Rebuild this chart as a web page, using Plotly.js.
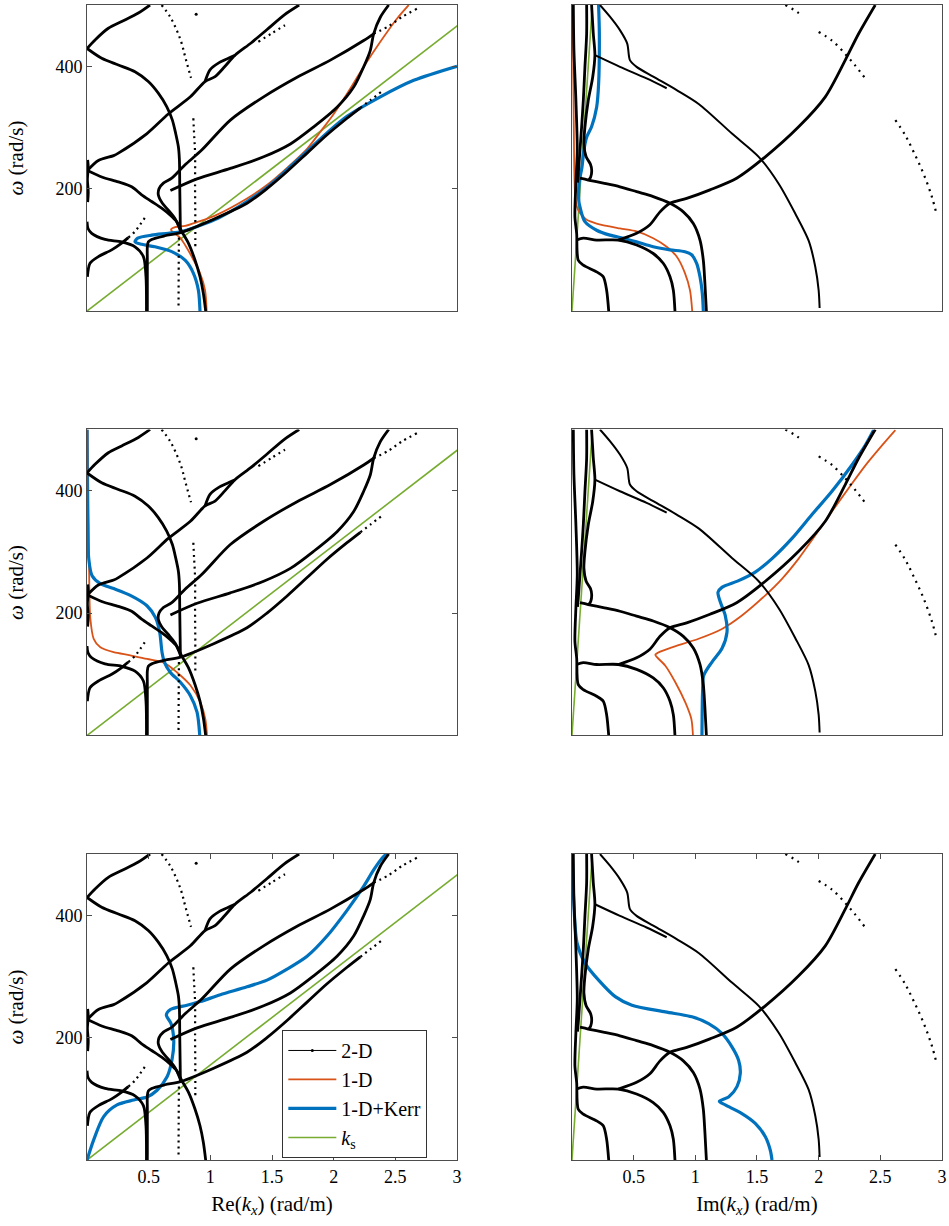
<!DOCTYPE html>
<html>
<head>
<meta charset="utf-8">
<script src="https://cdn.plot.ly/plotly-3.0.1.min.js"></script>
<style>html,body{margin:0;padding:0;background:#fff;}#chart{width:949px;height:1226px;}</style>
</head>
<body>
<div id="chart"></div>
<script>
// ===== 2-D solution branches, Re(kx) panels : [Re(kx) rad/m, omega rad/s]
const re2D_upperLeft = [[0,429],[0.065,443],[0.173,462],[0.281,473],[0.416,487],[0.511,500]];
const re2D_bendDown = [[0,429],[0.119,413],[0.254,402],[0.389,391],[0.497,375],[0.578,356],[0.646,334],[0.692,312],[0.719,290],[0.741,268],[0.749,247],[0.752,200],[0.755,160],[0.757,127]];
const re2D_longRise = [[0,229],[0.092,246],[0.216,254],[0.254,258],[0.486,290],[0.659,322],[0.838,350],[0.957,375],[1.038,383],[1.119,400],[1.2,418],[1.33,438],[1.46,460],[1.6,484],[1.72,500]];
const re2D_eye = [[0.957,375],[0.997,394],[1.065,405],[1.146,413],[1.2,418]];
const re2D_cuspDown = [[0,230],[0.119,219],[0.254,211],[0.362,203],[0.443,190],[0.524,179],[0.605,168],[0.673,157],[0.727,146],[0.768,130],[0.822,111],[0.876,83],[0.916,56],[0.943,29],[0.962,0]];
const re2D_edge = [[0.005,247],[0.01,235],[0.003,215],[0.01,195],[0.005,178]];
const re2D_hookRise = [[0.76,130],[0.714,151],[0.659,165],[0.611,176],[0.578,190],[0.584,200],[0.619,209],[0.687,217],[0.795,239],[0.93,263],[1.162,312],[1.432,350],[1.703,382],[1.973,410],[2.243,442],[2.324,453]];
const re2D_arc = [[0.676,197],[0.892,216],[1.162,233],[1.432,252],[1.649,273],[1.838,301],[2.027,333],[2.162,366],[2.243,399],[2.297,426],[2.324,453],[2.378,480],[2.446,500]];
const re2D_lowRise = [[0.489,0],[0.489,83],[0.489,105],[0.497,113],[0.524,117],[0.632,123],[0.757,128],[1.027,150],[1.297,176],[1.459,200],[1.622,228],[1.784,258],[1.946,288],[2.108,315],[2.216,332]];
const re2D_leftLow = [[0,146],[0.008,135],[0.038,127],[0.146,117],[0.281,113],[0.389,105],[0.457,89],[0.478,56],[0.482,0]];
const re2D_bottomLeft = [[0.003,56],[0.024,78],[0.092,89],[0.2,100],[0.281,111],[0.335,120]];
// sparse (dotted) 2-D points
const re2D_dotVert1 = [[0.745,120],[0.743,60],[0.742,5]];
const re2D_dotVert2 = [[0.862,315],[0.868,290],[0.876,258],[0.876,200],[0.878,154],[0.878,105]];
const re2D_dotArc = [[0.605,500],[0.673,481],[0.727,459],[0.768,437],[0.795,416],[0.843,381]];
const re2D_dotUpper = [[1.389,440],[1.5,454],[1.605,467]];
const re2D_dotHookEnd = [[2.324,453],[2.45,466],[2.55,480],[2.676,494]];
const re2D_dotLowEnd = [[2.216,332],[2.3,345],[2.392,359]];
const re2D_dotLeft = [[0.335,120],[0.389,130],[0.43,141],[0.484,157]];
const re2D_dotSingle = [[0.885,485]];

// ===== 2-D solution branches, Im(kx) panels : [Im(kx) rad/m, omega rad/s]
const im2D_circle = [[0.227,500],[0.308,481],[0.389,459],[0.448,437],[0.47,410],[0.524,399],[0.659,383],[0.849,361],[1.03,338],[1.297,290],[1.514,252],[1.676,208],[1.811,159],[1.919,115],[1.973,72],[2.0,34],[2.008,5]];
const im2D_branch = [[0.186,418],[0.389,399],[0.605,380],[0.768,364]];
const im2D_outArc = [[0.376,116],[0.524,127],[0.632,141],[0.714,162],[0.795,176],[0.93,184],[1.119,198],[1.335,217],[1.568,252],[1.838,301],[2.054,350],[2.216,410],[2.324,453],[2.459,500]];
const im2D_lowArc = [[0.038,116],[0.092,119],[0.2,116],[0.376,116],[0.524,108],[0.659,94],[0.74,78],[0.795,56],[0.822,34],[0.835,0]];
const im2D_midArc = [[0.065,217],[0.132,214],[0.254,209],[0.389,203],[0.524,195],[0.659,187],[0.795,176],[0.903,162],[0.984,143],[1.038,116],[1.065,83],[1.078,45],[1.09,0]];
const im2D_edgeLow = [[0.011,500],[0.016,426],[0.032,344],[0.043,263],[0.032,209],[0.024,154],[0.038,127],[0.051,83],[0.092,75],[0.2,64],[0.254,56],[0.281,34],[0.298,0]];
const im2D_vert2 = [[0.119,500],[0.119,453],[0.105,398],[0.092,344],[0.078,300],[0.065,263],[0.051,224],[0.045,210]];
const im2D_vert3 = [[0.159,500],[0.173,453],[0.186,418],[0.168,382],[0.132,344],[0.105,300],[0.097,273],[0.115,252],[0.15,240],[0.16,230],[0.152,219],[0.132,213]];
const im2D_dot1 = [[1.73,500],[1.8,492],[1.865,483]];
const im2D_dot2 = [[2.0,456],[2.108,442],[2.216,420],[2.297,401],[2.378,380]];
const im2D_dot3 = [[2.622,312],[2.703,287],[2.77,260],[2.851,224],[2.919,186],[2.959,156]];

// ===== 1-D and 1-D+Kerr, per row
const re1D_row1 = [[0.97,0],[0.957,34],[0.916,62],[0.849,89],[0.795,108],[0.754,120],[0.7,128],[0.681,133],[0.714,137],[0.795,139],[0.903,146],[1.038,156],[1.297,184],[1.459,206],[1.622,234],[1.784,265],[1.892,293],[2.0,322],[2.108,355],[2.243,399],[2.378,440],[2.514,478],[2.608,500]];
const reKerr_row1 = [[0.916,0],[0.903,34],[0.862,62],[0.795,83],[0.687,97],[0.551,105],[0.443,109],[0.389,113],[0.411,119],[0.524,124],[0.659,127],[0.768,130],[0.903,139],[1.065,152],[1.297,179],[1.459,202],[1.622,231],[1.784,261],[1.946,291],[2.108,318],[2.378,350],[2.649,377],[3.0,400]];
const im1D_row1 = [[0.005,500],[0.01,400],[0.015,300],[0.02,220],[0.03,180],[0.05,165],[0.078,157],[0.119,149],[0.2,143],[0.389,135],[0.524,130],[0.659,119],[0.768,105],[0.849,89],[0.916,62],[0.957,34],[0.975,0]];
const imKerr_row1 = [[0.216,500],[0.222,453],[0.216,371],[0.2,333],[0.159,301],[0.119,284],[0.097,263],[0.081,235],[0.059,211],[0.055,181],[0.065,170],[0.105,146],[0.2,132],[0.308,124],[0.416,119],[0.524,113],[0.659,105],[0.795,100],[0.916,97],[0.97,92],[1.011,78],[1.038,56],[1.057,29],[1.065,0]];

const re1D_row2 = [[0.005,500],[0.014,343],[0.019,234],[0.027,191],[0.054,158],[0.108,144],[0.216,136],[0.351,131],[0.486,125],[0.622,119],[0.73,103],[0.838,82],[0.919,54],[0.959,27],[0.973,0]];
const reKerr_row2 = [[0,500],[0.005,343],[0.014,289],[0.041,261],[0.108,248],[0.216,240],[0.351,229],[0.486,212],[0.554,193],[0.589,169],[0.608,136],[0.627,120],[0.676,103],[0.757,87],[0.838,65],[0.892,38],[0.914,0]];
const im1D_row2 = [[0.981,0],[0.968,27],[0.919,54],[0.838,87],[0.757,114],[0.689,128],[0.676,132],[0.716,137],[0.811,144],[1.027,158],[1.216,174],[1.378,196],[1.568,229],[1.703,256],[1.838,289],[1.973,327],[2.108,366],[2.243,404],[2.378,441],[2.514,474],[2.622,499]];
const imKerr_row2 = [[1.054,0],[1.059,71],[1.068,98],[1.135,120],[1.216,142],[1.257,169],[1.243,196],[1.203,218],[1.184,234],[1.216,242],[1.351,253],[1.486,267],[1.622,289],[1.784,322],[1.946,361],[2.108,399],[2.27,442],[2.378,474],[2.446,499]];

const reKerr_row3 = [[0,0],[0.054,33],[0.135,71],[0.243,90],[0.378,98],[0.486,103],[0.568,114],[0.649,136],[0.689,164],[0.703,196],[0.681,223],[0.643,237],[0.676,246],[0.811,253],[0.919,259],[1.081,270],[1.297,283],[1.459,294],[1.622,312],[1.784,333],[1.946,366],[2.108,408],[2.243,447],[2.324,474],[2.392,493],[2.432,501]];
const imKerr_row3 = [[0.003,500],[0.005,479],[0.014,425],[0.041,355],[0.108,321],[0.216,294],[0.351,267],[0.486,253],[0.757,242],[0.973,234],[1.108,223],[1.216,207],[1.297,185],[1.351,163],[1.365,142],[1.338,120],[1.27,103],[1.195,96],[1.243,90],[1.378,76],[1.486,60],[1.568,38],[1.608,16],[1.622,0]];

// ===== shear wavenumber k_s
const ksRe = [[0,0],[3.22,500]];
const ksIm = [[0,0],[0.165,500]];

// ===== axis ticks
const omegaTicks = [200,400];
const kTicks = [0.5,1,1.5,2,2.5,3];
const kTickText = ['0.5','1','1.5','2','2.5','3'];

// ---------------------------------------------------------------
const BLACK='#000000', ORANGE='#D95319', BLUE='#0072BD', GREEN='#77AC30';
const FAMILY = 'Liberation Serif, DejaVu Serif, serif';

const reSolid = [re2D_upperLeft, re2D_bendDown, re2D_longRise, re2D_eye, re2D_cuspDown, re2D_edge, re2D_hookRise, re2D_arc, re2D_lowRise, re2D_leftLow, re2D_bottomLeft];
const reDotted = [re2D_dotVert1, re2D_dotVert2, re2D_dotArc, re2D_dotUpper, re2D_dotHookEnd, re2D_dotLowEnd, re2D_dotLeft];
const imSolid = [im2D_outArc, im2D_lowArc, im2D_midArc, im2D_edgeLow, im2D_vert2, im2D_vert3];
const imThin = [im2D_circle, im2D_branch];
const imDotted = [im2D_dot1, im2D_dot2, im2D_dot3];

const rowsColoured = [
  {re1D: re1D_row1, reKerr: reKerr_row1, im1D: im1D_row1, imKerr: imKerr_row1},
  {re1D: re1D_row2, reKerr: reKerr_row2, im1D: im1D_row2, imKerr: imKerr_row2},
  {re1D: null, reKerr: reKerr_row3, im1D: null, imKerr: imKerr_row3}
];

function axId(k){ return k===1 ? '' : String(k); }
function line(pts, k, style){
  return Object.assign({
    type:'scatter', mode:'lines',
    x: pts.map(p=>p[0]), y: pts.map(p=>p[1]),
    xaxis:'x'+axId(k), yaxis:'y'+axId(k),
    showlegend:false, hoverinfo:'skip',
  }, style);
}

const traces = [];
for (let r=0; r<3; r++){
  const kL = r*2+1, kR = r*2+2;
  const c = rowsColoured[r];
  traces.push(line(ksRe, kL, {line:{color:GREEN,width:1.6}, name:'<i>k</i><sub>s</sub>', showlegend:r===2, legendrank:4}));
  traces.push(line(ksIm, kR, {line:{color:GREEN,width:1.6}}));
  if (c.re1D) traces.push(line(c.re1D, kL, {line:{color:ORANGE,width:1.8,shape:'spline',smoothing:0.8}, name:'1-D', showlegend:r===0, legendrank:2}));
  if (c.im1D) traces.push(line(c.im1D, kR, {line:{color:ORANGE,width:1.8,shape:'spline',smoothing:0.8}}));
  traces.push(line(c.reKerr, kL, {line:{color:BLUE,width:3.2,shape:'spline',smoothing:0.8}, name:'1-D+Kerr', showlegend:r===2, legendrank:3}));
  traces.push(line(c.imKerr, kR, {line:{color:BLUE,width:3.2,shape:'spline',smoothing:0.8}}));
  reSolid.forEach(p=>traces.push(line(p, kL, {line:{color:BLACK,width:2.8,shape:'spline',smoothing:0.8}})));
  reDotted.forEach(p=>traces.push(line(p, kL, {line:{color:BLACK,width:2.2,dash:'2px,4px',shape:'spline'}})));
  traces.push(line(re2D_dotSingle, kL, {mode:'markers', marker:{color:BLACK,size:3}}));
  imSolid.forEach(p=>traces.push(line(p, kR, {line:{color:BLACK,width:2.8,shape:'spline',smoothing:0.8}})));
  imThin.forEach(p=>traces.push(line(p, kR, {line:{color:BLACK,width:2,shape:'spline',smoothing:0.8}})));
  imDotted.forEach(p=>traces.push(line(p, kR, {line:{color:BLACK,width:2.2,dash:'2px,5px',shape:'spline'}})));
}
// legend sample for 2-D (line with point markers)
traces.push({type:'scatter', mode:'lines+markers', x:[null], y:[null], xaxis:'x5', yaxis:'y5',
  name:'2-D', line:{color:BLACK,width:1}, marker:{color:BLACK,size:3}, legendrank:1, showlegend:true});

const xDom = [[0.0917,0.4816],[0.6027,0.9926]];
const yDom = [[0.7463,0.9959],[0.4001,0.6497],[0.0538,0.3034]];
const AXC = '#4d4d4d';
const layout = {
  width:949, height:1226,
  margin:{l:0,r:0,t:0,b:0},
  paper_bgcolor:'#fff', plot_bgcolor:'#fff',
  font:{family:FAMILY, size:18, color:'#000'},
  showlegend:true,
  legend:{x:0.2975, y:0.1599, xanchor:'left', yanchor:'top', bgcolor:'#fff', bordercolor:'#333', borderwidth:1,
          font:{family:FAMILY, size:20, color:'#000'}, tracegroupgap:0, itemwidth:48},
};
for (let r=0; r<3; r++){
  for (let c=0; c<2; c++){
    const k = r*2+c+1, id = axId(k);
    const bottom = r===2, left = c===0;
    const xa = {
      domain:xDom[c], anchor:'y'+id, range:[0,3], showgrid:false, zeroline:false,
      showline:true, mirror: bottom ? 'ticks' : true, linecolor:AXC, linewidth:1,
      ticks: bottom ? 'inside' : '', ticklen:5, tickcolor:AXC,
      showticklabels: bottom, tickfont:{family:FAMILY,size:18,color:'#000'}
    };
    if (bottom) {
      xa.tickvals = kTicks; xa.ticktext = kTickText;
      xa.title = {text: left ? 'Re(<i>k</i><sub><i>x</i></sub>) (rad/m)' : 'Im(<i>k</i><sub><i>x</i></sub>) (rad/m)', font:{family:FAMILY,size:21,color:'#000'}, standoff:10};
    }
    const ya = {
      domain:yDom[r], anchor:'x'+id, range:[0,500], showgrid:false, zeroline:false,
      showline:true, mirror: left ? 'ticks' : true, linecolor:AXC, linewidth:1,
      ticks: left ? 'inside' : '', ticklen:5, tickcolor:AXC,
      showticklabels:left, tickfont:{family:FAMILY,size:18,color:'#000'}
    };
    if (left) {
      ya.tickvals = omegaTicks;
      ya.title = {text:'<i>ω</i> (rad/s)', font:{family:FAMILY,size:21,color:'#000'}, standoff:26};
    }
    layout['xaxis'+id] = xa;
    layout['yaxis'+id] = ya;
  }
}
Plotly.newPlot('chart', traces, layout, {staticPlot:true, displayModeBar:false});
</script>
</body>
</html>
